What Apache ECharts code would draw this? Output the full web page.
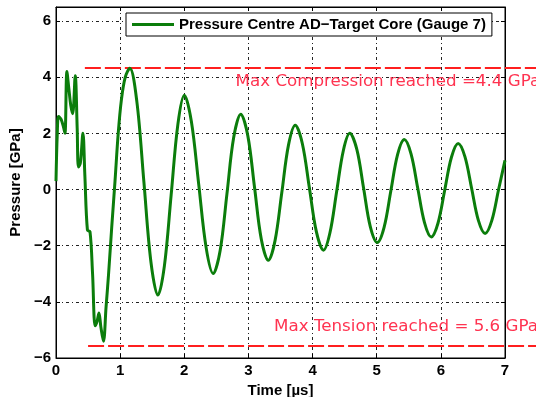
<!DOCTYPE html>
<html>
<head>
<meta charset="utf-8">
<script src="https://cdn.jsdelivr.net/npm/echarts@6/dist/echarts.min.js"></script>
<style>html,body{margin:0;padding:0;background:#fff}#c{width:536px;height:397px}</style>
</head>
<body>
<div id="c"></div>
<script>
// Time [µs] and pressure [GPa]
const timeUs = [0, 0.02, 0.04, 0.08, 0.12, 0.14, 0.17, 0.2, 0.23, 0.26, 0.3, 0.33, 0.35, 0.38, 0.42, 0.45, 0.49, 0.53, 0.57, 0.61, 0.64, 0.67, 0.70, 0.74, 0.78, 0.82, 0.87, 0.92, 0.97, 1.02, 1.08, 1.15,
  1.26, 1.37, 1.48, 1.59, 1.69, 1.795, 1.90, 2.0, 2.11, 2.225, 2.34, 2.45, 2.56, 2.665, 2.77, 2.88, 2.99, 3.095, 3.20, 3.31, 3.415, 3.52, 3.625, 3.73, 3.84, 3.95, 4.06, 4.17, 4.27, 4.375, 4.48, 4.58, 4.69, 4.795, 4.90, 5.01, 5.115, 5.22, 5.325, 5.43, 5.535, 5.64, 5.745, 5.85, 5.955, 6.06, 6.165, 6.27, 6.375, 6.48, 6.585, 6.69, 6.795, 6.9, 7.0];
const pressureGPa = [0.3, 2.0, 2.6, 2.5, 2.2, 2.0, 4.2, 3.6, 3.0, 2.7, 4.05, 2.2, 0.8, 0.95, 2.0, 0.5, -1.45, -1.5, -3.0, -4.85, -4.7, -4.4, -4.9, -5.4, -4.2, -3.0, -1.3, 0.3, 2.0, 3.2, 4.0, 4.32,
  3.14, 0.28, -2.58, -3.76, -2.72, -0.2, 2.32, 3.36, 2.43, 0.185, -2.06, -2.99, -2.16, -0.155, 1.85, 2.68, 1.92, 0.08, -1.76, -2.52, -1.82, -0.115, 1.59, 2.29, 1.64, 0.065, -1.51, -2.16, -1.55, -0.08, 1.39, 2.0, 1.43, 0.055, -1.32, -1.89, -1.35, -0.055, 1.24, 1.78, 1.27, 0.045, -1.18, -1.69, -1.2, -0.025, 1.15, 1.64, 1.17, 0.035, -1.1, -1.57, -1.1, 0.0, 1.04];
const maxCompression = { start: 0.45, end: 7.6, value: 4.33 };
const maxTension = { start: 0.5, end: 7.6, value: -5.57 };
const seriesName = 'Pressure Centre AD\u2212Target Core (Gauge 7)';
const compressionText = 'Max Compression reached =4.4 GPa';
const tensionText = 'Max Tension reached = 5.6 GPa';
const xTicks = [0, 1, 2, 3, 4, 5, 6, 7];
const yTicks = [-6, -4, -2, 0, 2, 4, 6];

const curve = timeUs.map((t, i) => [t, pressureGPa[i]]);
const gridLine = { show: true, lineStyle: { color: '#222', width: 1, type: [3, 3, 1, 3] } };
const labelFont = { fontFamily: 'Liberation Sans, Arial', fontWeight: 'bold', fontSize: 15, color: '#000' };
const annotFont = { fontFamily: 'DejaVu Sans', fontSize: 16.7, color: '#ff3350' };
// the overlay grid spans to the right page edge with the same time scale (7 µs per 449 px)
const overlayMax = 7 * 480 / 449;

const chart = echarts.init(document.getElementById('c'), null, { renderer: 'canvas' });
chart.setOption({
  animation: false,
  backgroundColor: '#fff',
  grid: [
    { left: 56, right: 31, top: 7, bottom: 39, containLabel: false, outerBoundsMode: 'none', show: true, borderColor: '#000', borderWidth: 1 },
    { left: 56, right: 0, top: 7, bottom: 39, containLabel: false, outerBoundsMode: 'none', show: false }
  ],
  legend: {
    data: [seriesName], left: 126, top: 13, padding: [4, 6, 4, 6],
    backgroundColor: '#fff', borderColor: '#000', borderWidth: 1, borderRadius: 0,
    icon: 'rect', itemWidth: 42, itemHeight: 3, itemGap: 4,
    textStyle: Object.assign({}, labelFont)
  },
  xAxis: [{
    type: 'value', min: 0, max: 7, interval: 1, gridIndex: 0,
    name: 'Time [\u00b5s]', nameLocation: 'middle', nameGap: 23, nameTextStyle: Object.assign({}, labelFont),
    axisLine: { show: true, onZero: false, lineStyle: { color: '#000' } },
    axisTick: { show: true, inside: true, length: 4, lineStyle: { color: '#000' } },
    axisLabel: Object.assign({ margin: 5, formatter: v => xTicks.includes(v) ? String(v) : '' }, labelFont),
    splitLine: gridLine
  }, {
    type: 'value', min: 0, max: 7, interval: 1, position: 'top', gridIndex: 0,
    axisLine: { show: true, onZero: false, lineStyle: { color: '#000' } },
    axisTick: { show: true, inside: true, length: 4, lineStyle: { color: '#000' } },
    axisLabel: { show: false }, splitLine: { show: false }
  }, {
    type: 'value', min: 0, max: overlayMax, gridIndex: 1, show: false
  }],
  yAxis: [{
    type: 'value', min: -6, max: 6.5, interval: 2, gridIndex: 0,
    name: 'Pressure [GPa]', nameLocation: 'middle', nameGap: 25, nameTextStyle: Object.assign({}, labelFont),
    axisLine: { show: true, onZero: false, lineStyle: { color: '#000' } },
    axisTick: { show: true, inside: true, length: 4, lineStyle: { color: '#000' } },
    axisLabel: Object.assign({ margin: 5, formatter: v => yTicks.includes(v) ? (v < 0 ? '\u2212' + Math.abs(v) : String(v)) : '' }, labelFont),
    splitLine: gridLine
  }, {
    type: 'value', min: -6, max: 6.5, interval: 2, position: 'right', gridIndex: 0,
    axisLine: { show: true, onZero: false, lineStyle: { color: '#000' } },
    axisTick: { show: true, inside: true, length: 4, lineStyle: { color: '#000' } },
    axisLabel: { show: false }, splitLine: { show: false }
  }, {
    type: 'value', min: -6, max: 6.5, gridIndex: 1, show: false
  }],
  series: [
    {
      name: seriesName, type: 'line', data: curve, smooth: 0.35, symbol: 'none',
      xAxisIndex: 0, yAxisIndex: 0,
      lineStyle: { color: '#0b7d0b', width: 3 }, itemStyle: { color: '#0b7d0b' }, z: 5
    },
    {
      name: 'maxC', type: 'line', clip: false, symbol: 'none', silent: true,
      xAxisIndex: 2, yAxisIndex: 2,
      data: [[maxCompression.start, maxCompression.value], [maxCompression.end, maxCompression.value]],
      lineStyle: { color: '#ff1f1f', width: 2, type: [16, 4] }, z: 4,
      markPoint: {
        symbol: 'circle', symbolSize: 0, silent: true,
        data: [{ coord: [2.8, 3.85], value: compressionText }],
        label: Object.assign({ show: true, position: 'right', distance: 0, formatter: compressionText }, annotFont)
      }
    },
    {
      name: 'maxT', type: 'line', clip: false, symbol: 'none', silent: true,
      xAxisIndex: 2, yAxisIndex: 2,
      data: [[maxTension.start, maxTension.value], [maxTension.end, maxTension.value]],
      lineStyle: { color: '#ff1f1f', width: 2, type: [16, 4] }, z: 4,
      markPoint: {
        symbol: 'circle', symbolSize: 0, silent: true,
        data: [{ coord: [3.4, -4.9], value: tensionText }],
        label: Object.assign({ show: true, position: 'right', distance: 0, formatter: tensionText }, annotFont)
      }
    }
  ]
});
</script>
</body>
</html>
